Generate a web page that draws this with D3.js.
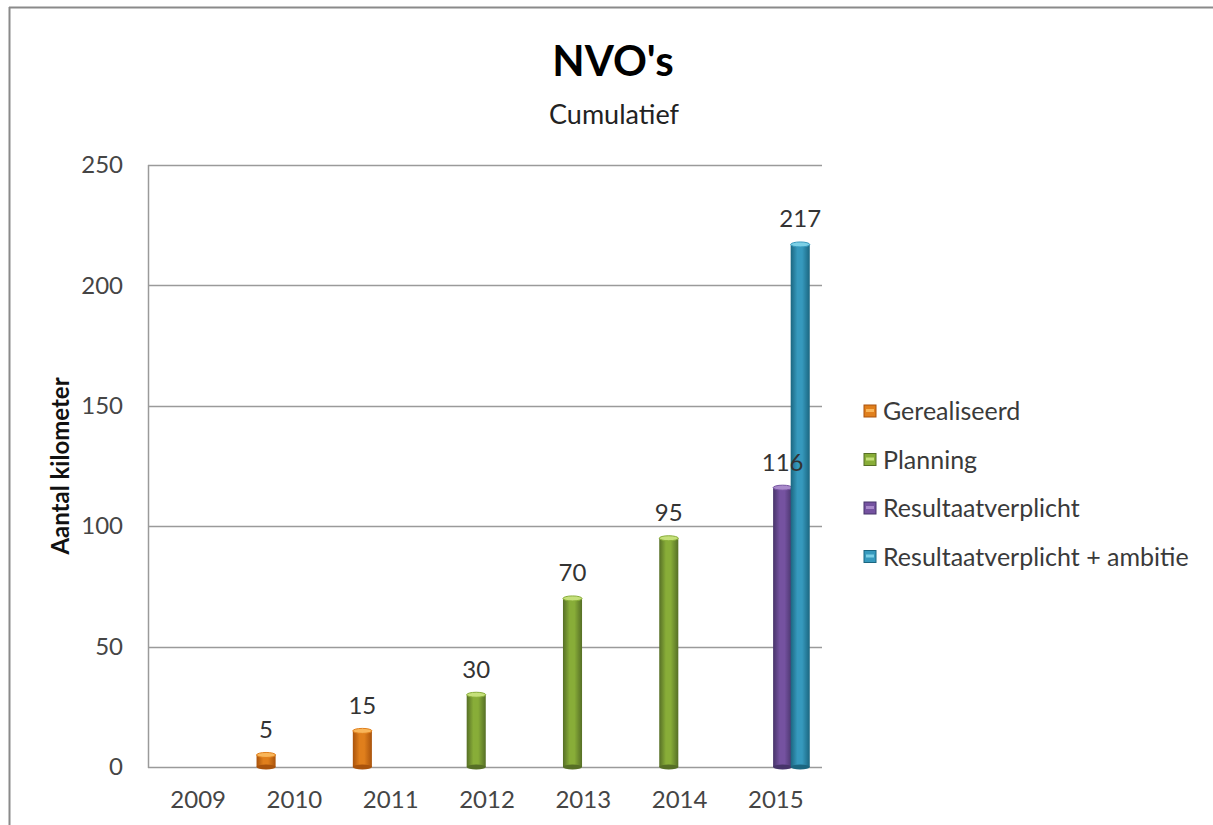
<!DOCTYPE html>
<html><head><meta charset="utf-8">
<script src="https://cdn.jsdelivr.net/npm/d3@7"></script>
<style>body{margin:0;background:#fff}svg{display:block}</style>
</head><body>
<svg id="c" width="1213" height="825"></svg>
<script>
const years = ["2009","2010","2011","2012","2013","2014","2015"];
const seriesNames = ["Gerealiseerd","Planning","Resultaatverplicht","Resultaatverplicht + ambitie"];
const gerealiseerd = [null, 5, 15, null, null, null, null];
const planning = [null, null, null, 30, 70, 95, null];
const resultaatverplicht = [null, null, null, null, null, null, 116];
const ambitie = [null, null, null, null, null, null, 217];
const yTicks = [0, 50, 100, 150, 200, 250];
const seriesValues = [gerealiseerd, planning, resultaatverplicht, ambitie];
const colors = [
  {dark:"#A9530C", mid:"#E07F1C", light:"#F9B65A"},
  {dark:"#566F26", mid:"#88AD38", light:"#C5E07A"},
  {dark:"#47346A", mid:"#7552A0", light:"#A98ACB"},
  {dark:"#1B6680", mid:"#3699BD", light:"#7CD0E6"}
];

const svg = d3.select("#c");
const font = "Lato, sans-serif";
const defs = svg.append("defs");
colors.forEach((c,i)=>{
  const g = defs.append("linearGradient").attr("id","g"+i).attr("x1","0").attr("x2","1").attr("y1","0").attr("y2","0");
  g.append("stop").attr("offset","0").attr("stop-color",c.dark);
  g.append("stop").attr("offset","0.35").attr("stop-color",c.mid);
  g.append("stop").attr("offset","0.6").attr("stop-color",c.mid);
  g.append("stop").attr("offset","1").attr("stop-color",c.dark);
});

// frame
svg.append("line").attr("x1",9).attr("x2",1213).attr("y1",7.5).attr("y2",7.5).attr("stroke","#8a8a8a").attr("stroke-width",2);
svg.append("line").attr("x1",9.5).attr("x2",9.5).attr("y1",7).attr("y2",825).attr("stroke","#8a8a8a").attr("stroke-width",2);

const L=148, R=822, T=165, B=767;
const x0 = d3.scaleBand().domain(years).range([L,R]).paddingInner(0.27).paddingOuter(0.135);
const x1 = d3.scaleBand().domain(d3.range(4)).range([0,x0.bandwidth()]);
const y = d3.scaleLinear().domain([0,250]).range([B,T]);

// gridlines
svg.append("g").selectAll("line").data(yTicks).join("line")
  .attr("x1",L).attr("x2",R).attr("y1",d=>Math.round(y(d))+0.5).attr("y2",d=>Math.round(y(d))+0.5)
  .attr("stroke","#9a9a9a").attr("stroke-width",1.5);
svg.append("line").attr("x1",L+0.5).attr("x2",L+0.5).attr("y1",T).attr("y2",B+1).attr("stroke","#9a9a9a").attr("stroke-width",1.5);

// y axis labels
const yAxis = d3.axisLeft(y).tickValues(yTicks).tickSize(0).tickPadding(25);
const ya = svg.append("g").attr("transform",`translate(${L},0)`).call(yAxis);
ya.select(".domain").remove();
ya.selectAll("text").attr("font-family",font).attr("font-size",24).attr("fill","#454545");

// x axis labels
const xAxis = d3.axisBottom(x0).tickSize(0).tickPadding(24);
const xa = svg.append("g").attr("transform",`translate(0,${B})`).call(xAxis);
xa.select(".domain").remove();
xa.selectAll("text").attr("font-family",font).attr("font-size",24).attr("fill","#454545").attr("dx",2);

// bars
const bw = x1.bandwidth()+1.5;
const capH = 5;
const data = [];
seriesValues.forEach((arr,si)=>arr.forEach((v,yi)=>{ if(v!=null) data.push({si, year:years[yi], v}); }));
const bars = svg.append("g");
data.forEach(d=>{
  const cx = x0(d.year)+x1(d.si)+x1.bandwidth()/2;
  const top = y(d.v), base = y(0);
  const c = colors[d.si];
  bars.append("rect").attr("x",cx-bw/2).attr("y",top).attr("width",bw).attr("height",base-top).attr("fill",`url(#g${d.si})`);
  bars.append("ellipse").attr("cx",cx).attr("cy",base).attr("rx",bw/2).attr("ry",capH/2).attr("fill",c.dark);
  bars.append("ellipse").attr("cx",cx).attr("cy",top).attr("rx",bw/2).attr("ry",capH/2).attr("fill",c.light).attr("stroke",c.mid).attr("stroke-width",1);
});
// labels
svg.append("g").selectAll("text").data(data).join("text")
  .attr("x",d=>x0(d.year)+x1(d.si)+x1.bandwidth()/2)
  .attr("y",d=>y(d.v)-17)
  .attr("text-anchor","middle")
  .attr("font-family",font).attr("font-size",24).attr("fill","#333")
  .text(d=>d.v);

// titles
svg.append("text").attr("x",613).attr("y",76).attr("text-anchor","middle")
  .attr("font-family",font).attr("font-weight","bold").attr("font-size",42).attr("fill","#000").text("NVO's");
svg.append("text").attr("x",614).attr("y",124).attr("text-anchor","middle")
  .attr("font-family",font).attr("font-size",27).attr("fill","#222").text("Cumulatief");
svg.append("text").attr("transform","translate(69,466) rotate(-90)").attr("text-anchor","middle")
  .attr("font-family",font).attr("font-weight","bold").attr("font-size",24).attr("fill","#111").text("Aantal kilometer");

// legend
const lg = svg.append("g");
seriesNames.forEach((n,i)=>{
  const yy = 411 + i*48.5;
  const c = colors[i];
  lg.append("rect").attr("x",864).attr("y",yy-6).attr("width",12).attr("height",12).attr("fill",c.mid).attr("stroke",c.dark).attr("stroke-width",1);
  lg.append("rect").attr("x",866).attr("y",yy-2).attr("width",8).attr("height",3).attr("fill",c.light);
  lg.append("text").attr("x",883).attr("y",yy+9).attr("font-family",font).attr("font-size",25).attr("fill","#3a3a3a").text(n);
});
</script>
</body></html>
